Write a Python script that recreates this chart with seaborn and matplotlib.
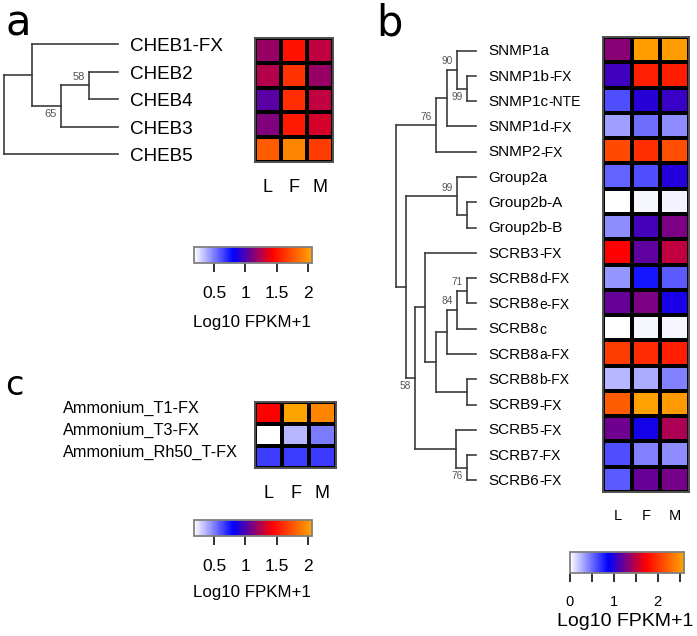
import numpy as np
import pandas as pd
import matplotlib
matplotlib.use("Agg")
import matplotlib.pyplot as plt
import matplotlib.transforms as mtrans
from matplotlib.ticker import FixedLocator
from matplotlib.colors import LinearSegmentedColormap
import seaborn as sns

plt.rcParams['font.family'] = ['Liberation Sans', 'DejaVu Sans']

# ---------------- data ----------------
tissues = ["L", "F", "M"]

# panel a
cheb_genes = ["CHEB1-FX", "CHEB2", "CHEB4", "CHEB3", "CHEB5"]
cheb_L = [1.18, 1.25, 1.03, 1.12, 1.78]
cheb_F = [1.50, 1.62, 1.60, 1.53, 1.93]
cheb_M = [1.28, 1.18, 1.28, 1.33, 1.66]
# node depths and bootstrap values (label, side)
tree_a = (0, None, [
    (28, None, ["CHEB1-FX",
                (57, ("65", "below"), [
                    (85, ("58", "above"), ["CHEB2", "CHEB4"]),
                    "CHEB3"])]),
    "CHEB5"])
leaf_depth_a = 114

# panel b
b_main = ["SNMP1a", "SNMP1b", "SNMP1c", "SNMP1d", "SNMP2", "Group2a", "Group2b-A",
          "Group2b-B", "SCRB3", "SCRB8", "SCRB8", "SCRB8", "SCRB8", "SCRB8", "SCRB9",
          "SCRB5", "SCRB7", "SCRB6"]
b_suffix = ["", "-FX", "-NTE", "-FX", "-FX", "", "", "", "-FX", "d-FX", "e-FX", "c",
            "a-FX", "b-FX", "-FX", "-FX", "-FX", "-FX"]
b_L = [1.34, 1.08, 0.60, 0.33, 2.12, 0.53, 0.00, 0.39, 1.73, 0.36, 1.21, 0.00, 2.05, 0.25, 2.21, 1.24, 0.60, 0.56]
b_F = [2.55, 1.89, 1.00, 0.49, 1.97, 0.60, 0.04, 1.10, 1.19, 0.80, 1.28, 0.04, 1.96, 0.29, 2.57, 0.94, 0.43, 1.21]
b_M = [2.55, 1.88, 1.06, 0.39, 2.14, 0.99, 0.05, 1.28, 1.52, 0.56, 0.95, 0.04, 1.89, 0.43, 2.54, 1.45, 0.39, 1.26]
b_genes = [m + s for m, s in zip(b_main, b_suffix)]
tree_b = (0, None, [
    (40, ("76", "above"), [
        (51, None, [
            (61, ("90", "above"), ["SNMP1a",
                                   (71, ("99", "below"), ["SNMP1b-FX", "SNMP1c-NTE"])]),
            "SNMP1d-FX"]),
        "SNMP2-FX"]),
    (10, None, [
        (61, ("99", "above"), ["Group2a", (71, None, ["Group2b-A", "Group2b-B"])]),
        (19, ("58", "below"), [
            (29, None, ["SCRB3-FX",
                        (40, None, [
                            (51, None, [
                                (61, ("84", "above"), [
                                    (71, ("71", "above"), ["SCRB8d-FX", "SCRB8e-FX"]),
                                    "SCRB8c"]),
                                "SCRB8a-FX"]),
                            (71, None, ["SCRB8b-FX", "SCRB9-FX"])])]),
            (60, None, ["SCRB5-FX", (71, ("76", "below"), ["SCRB7-FX", "SCRB6-FX"])])])])])
leaf_depth_b = 80

# panel c
amm_genes = ["Ammonium_T1-FX", "Ammonium_T3-FX", "Ammonium_Rh50_T-FX"]
amm_L = [1.43, 0.18, 0.66]
amm_F = [2.05, 0.36, 0.66]
amm_M = [1.93, 0.51, 0.67]

ticks_ac = [0.5, 1, 1.5, 2]
ticklabels_ac = ["0.5", "1", "1.5", "2"]
ticks_b = [0, 1, 2]
minor_b = [0.5, 1.5, 2.5]

# ---------------- figure ----------------
W, H = 697, 636
fig = plt.figure(figsize=(W / 100, H / 100), dpi=100)
cmap = LinearSegmentedColormap.from_list("wbro", ["white", "blue", "red", "orange"])
TREE_COL = "#3c3c3c"
BOOT_COL = "#555555"


def px_axes(l, t, r, b):
    return fig.add_axes([l / W, 1 - b / H, (r - l) / W, (b - t) / H])


def draw_tree(ax, node, leaf_pos, leaf_depth, boot_size):
    if isinstance(node, str):
        return leaf_pos[node], leaf_depth
    depth, boot, children = node
    ys = []
    for ch in children:
        y, d = draw_tree(ax, ch, leaf_pos, leaf_depth, boot_size)
        ax.plot([depth, d], [y, y], color=TREE_COL, lw=1.2, clip_on=False,
                solid_capstyle="projecting")
        ys.append(y)
    ax.plot([depth, depth], [min(ys), max(ys)], color=TREE_COL, lw=1.2, clip_on=False,
            solid_capstyle="projecting")
    ymid = (min(ys) + max(ys)) / 2
    if boot is not None:
        txt, side = boot
        ax.annotate(txt, xy=(depth, ymid), xytext=(-3, 6 if side == "above" else -6),
                    textcoords="offset points", ha="right", va="center",
                    fontsize=boot_size, color=BOOT_COL)
    return ymid, depth


def draw_heat(ax, cax, df, vmin, vmax, ticks, ticklabels, lfm_size, lfm_pad,
              tick_size, tick_pad, minor=None):
    sns.heatmap(df, ax=ax, cmap=cmap, vmin=vmin, vmax=vmax, linewidths=1.5,
                linecolor="black", cbar=True, cbar_ax=cax,
                cbar_kws={"orientation": "horizontal", "ticks": ticks},
                yticklabels=False, xticklabels=True)
    ax.set_xlabel("")
    ax.set_ylabel("")
    ax.tick_params(axis="x", length=0, labelsize=lfm_size, pad=lfm_pad, rotation=0)
    for s in ax.spines.values():
        s.set_visible(True)
        s.set_color("#505050")
        s.set_linewidth(1.4)
    cb = ax.collections[0].colorbar
    cb.outline.set_edgecolor("#808080")
    cb.outline.set_linewidth(1.3)
    cb.set_ticks(ticks)
    cb.set_ticklabels(ticklabels)
    if minor is not None:
        cax.xaxis.set_minor_locator(FixedLocator(minor))
        cax.tick_params(axis="x", which="minor", length=6.5, width=1.3, color="#222222",
                        bottom=True)
    cax.tick_params(axis="x", which="major", length=6.5, width=1.3, color="#222222",
                    labelsize=tick_size, pad=tick_pad, bottom=True)


# ---------- panel a ----------
df_a = pd.DataFrame({"L": cheb_L, "F": cheb_F, "M": cheb_M}, index=cheb_genes)[tissues]
ax_ta = px_axes(4, 30.25, 118, 167.75)
ax_ta.set_xlim(0, leaf_depth_a)
ax_ta.set_ylim(len(cheb_genes), 0)
ax_ta.axis("off")
pos_a = {g: i + 0.5 for i, g in enumerate(cheb_genes)}
draw_tree(ax_ta, tree_a, pos_a, leaf_depth_a, 8)
for g in cheb_genes:
    ax_ta.annotate(g, xy=(leaf_depth_a, pos_a[g]), xytext=(9, -2),
                   textcoords="offset points", ha="left", va="center", fontsize=13.6)
ax_ha = px_axes(255, 38, 333, 162)
cax_a = px_axes(194, 247, 312, 263)
draw_heat(ax_ha, cax_a, df_a, 0.18, 2.06, ticks_ac, ticklabels_ac, 13, 12, 12.5, 10)
fig.text(252 / W, 1 - 322 / H, "Log10 FPKM+1", ha="center", va="center", fontsize=12.2)
fig.text(5 / W, 1 - 35 / H, "a", ha="left", va="baseline", fontsize=30,
         family="DejaVu Sans")

# ---------- panel b ----------
df_b = pd.DataFrame({"L": b_L, "F": b_F, "M": b_M}, index=b_genes)[tissues]
ax_tb = px_axes(396, 38, 476, 493)
ax_tb.set_xlim(0, leaf_depth_b)
ax_tb.set_ylim(len(b_genes), 0)
ax_tb.axis("off")
pos_b = {g: i + 0.5 for i, g in enumerate(b_genes)}
draw_tree(ax_tb, tree_b, pos_b, leaf_depth_b, 7.3)
for m, s, g in zip(b_main, b_suffix, b_genes):
    t = ax_tb.annotate(m, xy=(leaf_depth_b, pos_b[g]), xytext=(8.6, -0.5),
                       textcoords="offset points", ha="left", va="center", fontsize=11)
    if s:
        ax_tb.annotate(s, xy=(1, 0.5), xycoords=t, xytext=(0.2, -0.3),
                       textcoords="offset points", ha="left", va="center", fontsize=10)
ax_hb = px_axes(603, 37, 689, 492)
cax_b = px_axes(570, 552, 684, 573)
draw_heat(ax_hb, cax_b, df_b, 0.0, 2.6, ticks_b, [str(v) for v in ticks_b], 10.5, 12.5,
          10.5, 9, minor=minor_b)
fig.text(625 / W, 1 - 622 / H, "Log10 FPKM+1", ha="center", va="center", fontsize=14)
fig.text(376 / W, 1 - 35 / H, "b", ha="left", va="baseline", fontsize=30,
         family="DejaVu Sans")

# ---------- panel c ----------
df_c = pd.DataFrame({"L": amm_L, "F": amm_F, "M": amm_M}, index=amm_genes)[tissues]
ax_hc = px_axes(255, 402, 336, 468)
cax_c = px_axes(194, 520, 312, 536)
draw_heat(ax_hc, cax_c, df_c, 0.18, 2.06, ticks_ac, ticklabels_ac, 13, 12, 12.5, 10)
lab_trans = mtrans.blended_transform_factory(fig.transFigure, ax_hc.transData) + \
    mtrans.ScaledTranslation(0, 5 / 100, fig.dpi_scale_trans)
for i, g in enumerate(amm_genes):
    ax_hc.text(63 / W, i + 0.5, g, transform=lab_trans, ha="left", va="center",
               fontsize=11.7, clip_on=False)
fig.text(252 / W, 1 - 593 / H, "Log10 FPKM+1", ha="center", va="center", fontsize=12.2)
fig.text(5 / W, 1 - 395 / H, "c", ha="left", va="baseline", fontsize=24,
         family="DejaVu Sans")

fig.savefig("out.png", dpi=100)
